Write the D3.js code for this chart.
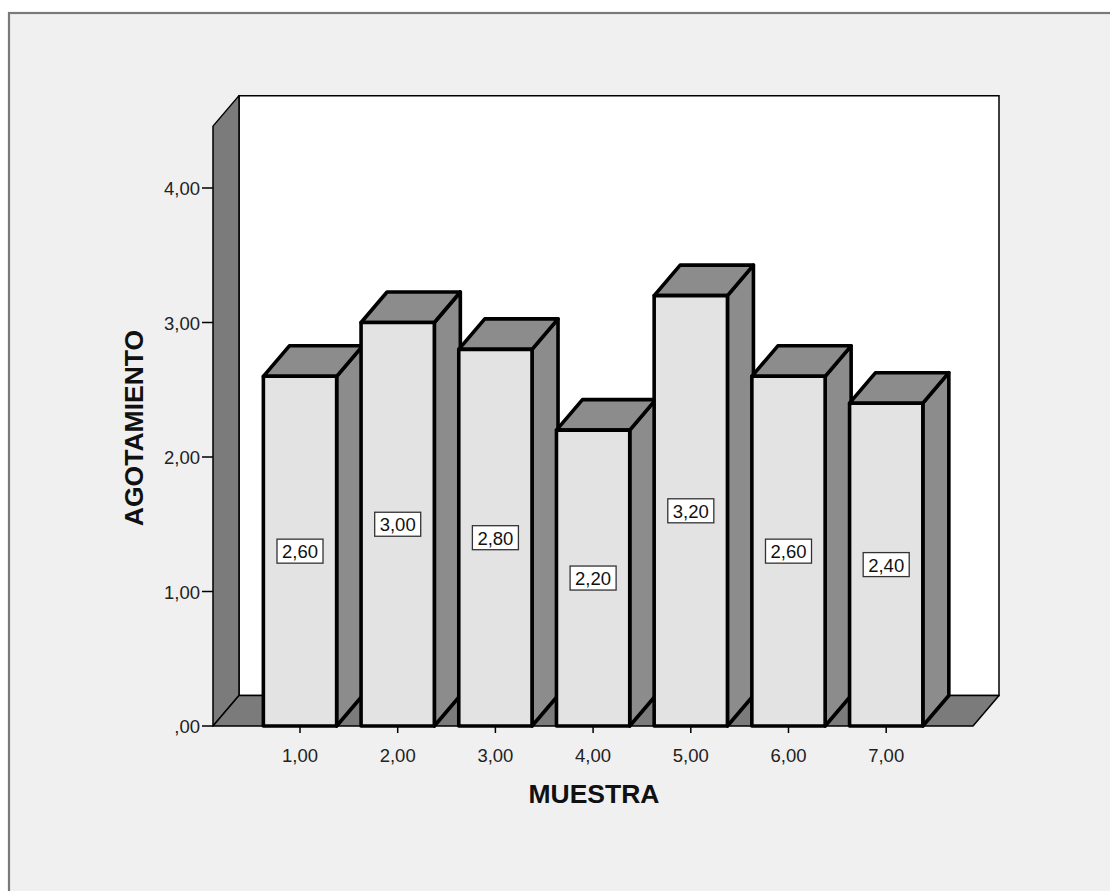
<!DOCTYPE html>
<html><head><meta charset="utf-8">
<script src="https://cdn.jsdelivr.net/npm/d3@7"></script>
<style>html,body{margin:0;padding:0;background:#fff;}svg{display:block;}</style>
</head><body>
<script>
const categories = ["1,00","2,00","3,00","4,00","5,00","6,00","7,00"];
const values = [2.6, 3.0, 2.8, 2.2, 3.2, 2.6, 2.4];
const valueLabels = ["2,60","3,00","2,80","2,20","3,20","2,60","2,40"];
const yTicks = [0, 1, 2, 3, 4];
const yTickLabels = [",00","1,00","2,00","3,00","4,00"];
const xTitle = "MUESTRA";
const yTitle = "AGOTAMIENTO";

const W = 1110, H = 891;
const font = "Arial, 'Liberation Sans', sans-serif";
const dx = 26, dy = -30.5;          // 3D depth offset
const x0 = 213, x1 = 973;           // floor front extent
const wallTopVal = 4.46;

const svg = d3.select("body").append("svg").attr("width", W).attr("height", H);

// outer frame
svg.append("rect").attr("x", 9).attr("y", 13).attr("width", 1300).attr("height", 1000)
  .attr("fill", "#f0f0f0").attr("stroke", "#7a7a7a").attr("stroke-width", 2.2);

const y = d3.scaleLinear().domain([0, 4]).range([726, 188]);
const x = d3.scaleBand().domain(categories).range([251.15, 935.05])
  .paddingInner(0.25).paddingOuter(0.125);

const yb = y(0), yt = y(wallTopVal);
const line = d3.line();

// back wall
svg.append("path").attr("d", line([[x0+dx, yt+dy],[x1+dx, yt+dy],[x1+dx, yb+dy],[x0+dx, yb+dy]]) + "Z")
  .attr("fill", "#ffffff").attr("stroke", "#000").attr("stroke-width", 1.5);
// left wall
svg.append("path").attr("d", line([[x0, yt],[x0+dx, yt+dy],[x0+dx, yb+dy],[x0, yb]]) + "Z")
  .attr("fill", "#7b7b7b").attr("stroke", "#000").attr("stroke-width", 1.5).attr("stroke-linejoin","round");
// floor
svg.append("path").attr("d", line([[x0, yb],[x0+dx, yb+dy],[x1+dx, yb+dy],[x1, yb]]) + "Z")
  .attr("fill", "#7b7b7b").attr("stroke", "#000").attr("stroke-width", 1.5).attr("stroke-linejoin","round");

// y axis ticks
const yAxisG = svg.append("g");
yTicks.forEach((t, i) => {
  yAxisG.append("line").attr("x1", x0 - 11).attr("x2", x0).attr("y1", y(t)).attr("y2", y(t))
    .attr("stroke", "#000").attr("stroke-width", 1.5);
  yAxisG.append("text").attr("x", x0 - 13).attr("y", y(t) + 7).attr("text-anchor", "end")
    .attr("font-family", font).attr("font-size", "18.5px").attr("fill", "#222").text(yTickLabels[i]);
});

// bars
const barsG = svg.append("g");
categories.forEach((c, i) => {
  const L = x(c), R = x(c) + x.bandwidth(), T = y(values[i]), B = y(0);
  const g = barsG.append("g");
  const st = {stroke: "#000", "stroke-width": 3.6, "stroke-linejoin": "round"};
  // side
  const side = g.append("path").attr("d", line([[R, T],[R+dx, T+dy],[R+dx, B+dy],[R, B]]) + "Z").attr("fill", "#8c8c8c");
  // top
  const top = g.append("path").attr("d", line([[L, T],[L+dx, T+dy],[R+dx, T+dy],[R, T]]) + "Z").attr("fill", "#8c8c8c");
  // front
  const front = g.append("rect").attr("x", L).attr("y", T).attr("width", R - L).attr("height", B - T).attr("fill", "#e3e3e3");
  [side, top, front].forEach(s => Object.entries(st).forEach(([k, v]) => s.attr(k, v)));
  // value label
  const cx = (L + R) / 2, cy = y(values[i] / 2);
  const lbl = g.append("g");
  const txt = lbl.append("text").attr("x", cx).attr("y", cy + 7).attr("text-anchor", "middle")
    .attr("font-family", font).attr("font-size", "18.5px").attr("fill", "#111").text(valueLabels[i]);
  const tw = txt.node().getComputedTextLength();
  lbl.insert("rect", "text").attr("x", cx - tw/2 - 5).attr("y", cy - 12).attr("width", tw + 10).attr("height", 24)
    .attr("fill", "#fff").attr("stroke", "#333").attr("stroke-width", 1.3);
});

// x axis ticks and labels
const xAxisG = svg.append("g");
categories.forEach(c => {
  const cx = x(c) + x.bandwidth() / 2;
  xAxisG.append("line").attr("x1", cx).attr("x2", cx).attr("y1", yb).attr("y2", yb + 7)
    .attr("stroke", "#000").attr("stroke-width", 1.5);
  xAxisG.append("text").attr("x", cx).attr("y", 762).attr("text-anchor", "middle")
    .attr("font-family", font).attr("font-size", "18.5px").attr("fill", "#222").text(c);
});

// titles
svg.append("text").attr("x", 594).attr("y", 803).attr("text-anchor", "middle")
  .attr("font-family", font).attr("font-weight", "bold").attr("font-size", "26.5px").attr("fill", "#111").text(xTitle);
svg.append("text").attr("transform", "translate(143,428) rotate(-90)").attr("text-anchor", "middle")
  .attr("font-family", font).attr("font-weight", "bold").attr("font-size", "26.5px").attr("fill", "#111").text(yTitle);
</script>
</body></html>
